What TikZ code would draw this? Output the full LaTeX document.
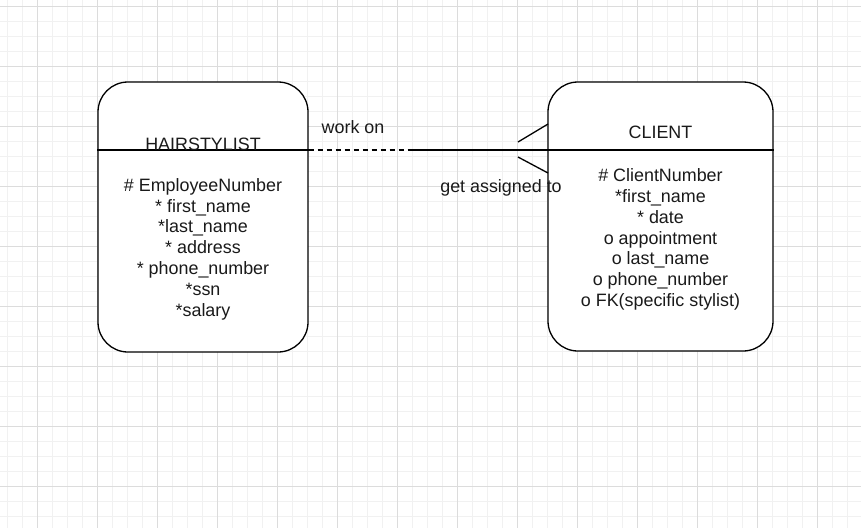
\documentclass[tikz,border=0pt]{standalone}
\usepackage{fontspec}
\setmainfont{Liberation Sans}
\usetikzlibrary{calc}

\definecolor{gridMinor}{HTML}{F1F1F1}
\definecolor{gridMajor}{HTML}{DCDCDC}
\definecolor{textInk}{HTML}{1A1A1A}

\tikzset{
	entity/.style = {draw, line width = 1.3pt, rounded corners = 30pt, fill = white, inner sep = 0pt},
	title/.style = {anchor = base, inner sep = 0pt, text = textInk},
	attrs/.style = {align = center, inner sep = 0pt, text = textInk, font = \fontsize{17.9}{20.8}\selectfont},
	link/.style = {line width = 1.3pt}
}

\begin{document}
\begin{tikzpicture}[x = 1pt, y = -1pt, font = \fontsize{17.9}{20.8}\selectfont]
					\def\W{861};
					\def\H{528};
					\def\divY{150};
			
					\useasboundingbox (0,0) rectangle (\W,\H);
					\fill [white] (0,0) rectangle (\W,\H);
			
					\begin{scope}
						\foreach \x in {7,22,...,861} \draw [gridMinor, line width = 1pt] (\x,0) -- (\x,\H);
						\foreach \y in {6,21,...,528} \draw [gridMinor, line width = 1pt] (0,\y) -- (\W,\y);
						\foreach \x in {37,97,...,861} \draw [gridMajor, line width = 1pt] (\x,0) -- (\x,\H);
						\foreach \y in {6,66,...,528} \draw [gridMajor, line width = 1pt] (0,\y) -- (\W,\y);
					\end{scope}
			
					\begin{scope}
						\node [entity, minimum width = 210pt, minimum height = 270pt] (hair) at (203,217) {};
						\node [entity, minimum width = 225pt, minimum height = 269pt] (client) at (660.5,216.5) {};
					\end{scope}
			
					\begin{scope}
						\coordinate (hairW) at (hair.west |- 0,\divY);
						\coordinate (hairE) at (hair.east |- 0,\divY);
						\coordinate (clientW) at (client.west |- 0,\divY);
						\coordinate (clientE) at (client.east |- 0,\divY);
						\coordinate (dashEnd) at (410,\divY);
						\draw [link] (hairW) -- (hairE);
						\draw [link] (clientW) -- (clientE);
						\draw [link, dash pattern = on 5pt off 4pt] (hairE) -- (dashEnd);
						\draw [link] (dashEnd) -- (clientW);
					\end{scope}
			
					\begin{scope}
						\coordinate (footA) at (518,142);
						\coordinate (footB) at (548,124);
						\coordinate (footC) at (518,157);
						\coordinate (footD) at (548,173);
						\draw [link] (footA) -- (footB);
						\draw [link] (footC) -- (footD);
					\end{scope}
			
					\begin{scope}
						\node [title] (hairTitle) at (203,\divY) {HAIRSTYLIST};
						\node [title] (clientTitle) at (660.5,138) {CLIENT};
						\node [title] (workOn) at (353,133) {work on};
						\node [title] (assigned) at (501,192) {get assigned to};
					\end{scope}
			
					\begin{scope}
						\node [attrs] (hairAttrs) at (203,249) {\# EmployeeNumber\\* first\_name\\*last\_name\\* address\\* phone\_number\\*ssn\\*salary};
						\node [attrs] (clientAttrs) at (660.5,239.5) {\# ClientNumber\\*first\_name\\* date\\o appointment\\o last\_name\\o phone\_number\\o FK(specific stylist)};
					\end{scope}
				\end{tikzpicture}
\end{document}
